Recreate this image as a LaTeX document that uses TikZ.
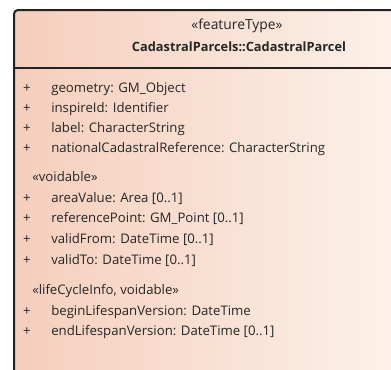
\documentclass[tikz,border=0pt]{standalone}
\usepackage{fontspec}
\setmainfont{Open Sans}
\definecolor{umlleft}{RGB}{245,206,188}
\definecolor{umlright}{RGB}{252,241,233}
\definecolor{umlline}{RGB}{35,35,35}
\definecolor{umltext}{RGB}{38,38,38}
\begin{document}
\begin{tikzpicture}[x=0.75pt, y=-0.75pt]
  % Define box, title and attribute styles
  \tikzstyle{classbox} = [left color=umlleft, right color=umlright,
  rounded corners=3pt]
  \tikzstyle{classtitle} = [text=umltext, font=\fontsize{10.4}{12}\selectfont,
  inner sep=0pt, anchor=base]
  \tikzstyle{attrplus} = [text=umltext, font=\fontsize{9.9}{12}\selectfont,
  inner sep=0pt, anchor=base]
  \tikzstyle{attrtext} = [text=umltext, font=\fontsize{9.9}{12}\selectfont,
  inner sep=0pt, anchor=base west]

  \useasboundingbox (0,0) rectangle (391,369);

  % class box, cut off at the right and the bottom
  \path[classbox] (14,10) rectangle (396,375);
  \coordinate (nw) at (14,10);
  \coordinate (ne) at (396,10);
  \coordinate (sw) at (14,375);
  \coordinate (hw) at (14,68);
  \coordinate (he) at (396,68);
  \draw[umlline, line width=1.5pt, rounded corners=3pt] (sw) -- (nw) -- (ne);
  \draw[umlline, line width=1.2pt] (hw) -- (he);

  % header
  \node[classtitle] (stereo) at (237,29) {«featureType»};
  \node[classtitle, font=\fontsize{9.6}{12}\selectfont\bfseries] (title) at (239,51)
  {CadastralParcels::CadastralParcel};

  % attributes
  \foreach \y/\name/\txt in {92/geometry/{geometry: GM\_Object},
    112/inspireid/{inspireId: Identifier},
    132/label/{label: CharacterString},
    152/ncref/{nationalCadastralReference: CharacterString},
    202/area/{areaValue: Area [0..1]},
    222/refpoint/{referencePoint: GM\_Point [0..1]},
    243/validfrom/{validFrom: DateTime [0..1]},
    264/validto/{validTo: DateTime [0..1]},
    315/beginlife/{beginLifespanVersion: DateTime},
    335/endlife/{endLifespanVersion: DateTime [0..1]}}
  {
    \node[attrplus] (plus-\name) at (27,\y) {+};
    \node[attrtext] (attr-\name) at (51,\y) {\txt};
  }

  % stereotype groups
  \node[attrtext] (voidable) at (32,181) {«voidable»};
  \node[attrtext] (lifecycle) at (32,294) {«lifeCycleInfo, voidable»};
\end{tikzpicture}
\end{document}
